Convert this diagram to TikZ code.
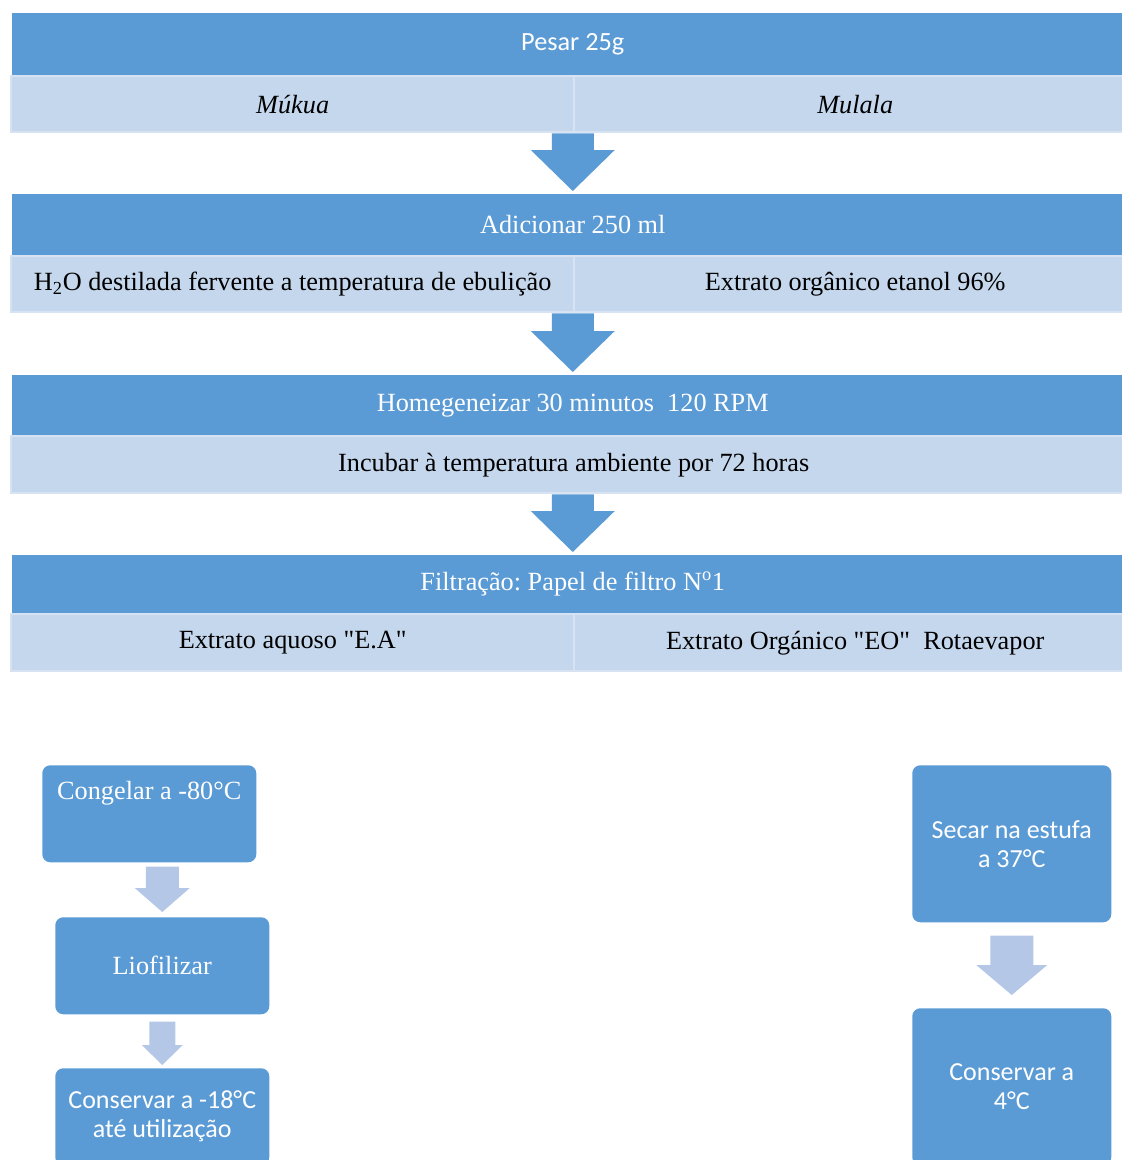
\documentclass[tikz,border=0pt]{standalone}
\usepackage{fontspec}
\setmainfont{Liberation Serif}
\newfontfamily\calibri{Carlito}
\usetikzlibrary{positioning, calc}
\frenchspacing

\definecolor{bandblue}{HTML}{5B9BD5}
\definecolor{rowblue}{HTML}{C5D7ED}
\definecolor{rowedge}{HTML}{D7E3F3}
\definecolor{paleblue}{HTML}{B4C7E7}

\newcommand{\pxl}{0.75pt}
% block arrow: [colour]{from}{to}{shaft half}{head half}{head length}{gap from}{gap to}
\newcommand{\blockarrow}[8][bandblue]{%
  \fill[#1] ($(#3|-#2)+(-#4,#7)$) -- ($(#3|-#2)+(#4,#7)$) -- ($(#3)+(#4,-#6-#8)$)
    -- ($(#3)+(#5,-#6-#8)$) -- ($(#3)+(0,-#8)$) -- ($(#3)+(-#5,-#6-#8)$)
    -- ($(#3)+(-#4,-#6-#8)$) -- cycle;}

\tikzset{
  band/.style={rectangle, fill=bandblue, inner sep=0pt, anchor=north west,
    minimum width=1121*\pxl, text=white, font=\fontsize{19.7}{22}\selectfont},
  row/.style={rectangle, fill=rowblue, draw=rowedge, line width=1.8pt, inner sep=0pt,
    anchor=north west, text=black, font=\fontsize{19.7}{22}\selectfont},
  stepbox/.style={rectangle, rounded corners=6pt, fill=bandblue, inner sep=0pt,
    anchor=north west, text=white, align=center, font=\fontsize{19.7}{22}\selectfont},
  sanstext/.style={font=\calibri\fontsize{19.5}{21.75}\selectfont}
}

\begin{document}
\begin{tikzpicture}[x=0.75pt, y=-0.75pt]
    \useasboundingbox (0,0) rectangle (1121,1160);
    % Rows
    \node[row, minimum width=563*\pxl, minimum height=56*\pxl] (mukua) at (10,75) {\itshape Múkua};
    \node[row, minimum width=562*\pxl, minimum height=56*\pxl] (mulala) at (573,75) {\itshape Mulala};
    \node[row, minimum width=563*\pxl, minimum height=56*\pxl] (water) at (10,255) {H\textsubscript{2}O destilada fervente a temperatura de ebulição};
    \node[row, minimum width=562*\pxl, minimum height=56*\pxl] (ethanol) at (573,255) {Extrato orgânico etanol 96\%};
    \node[row, minimum width=1125*\pxl, minimum height=57*\pxl] (incubate) at (10,435) {Incubar à temperatura ambiente por 72 horas};
    \node[row, minimum width=563*\pxl, minimum height=57*\pxl] (aqueous) at (10,613) {Extrato aquoso \textquotedbl E.A\textquotedbl};
    \node[row, minimum width=562*\pxl, minimum height=57*\pxl] (organic) at (573,613) {Extrato Orgánico \textquotedbl EO\textquotedbl~ Rotaevapor};
    % Bands
    \node[band, minimum height=62*\pxl] (weigh) at (12,13) {\calibri Pesar 25g};
    \node[band, minimum height=61*\pxl] (add) at (12,194) {Adicionar 250 ml};
    \node[band, minimum height=60*\pxl] (shake) at (12,375) {Homegeneizar 30 minutos~ 120 RPM};
    \node[band, minimum height=58*\pxl] (filter) at (12,555) {Filtração: Papel de filtro N\textsuperscript{o}1};
    % Arrows between bands
    \blockarrow{mukua.south east}{add.north}{21}{42}{41}{0}{3}
    \blockarrow{water.south east}{shake.north}{21}{42}{41}{0}{3}
    \blockarrow{incubate.south}{filter.north}{21}{42}{41}{0}{3}
    % Aqueous branch
    \node[stepbox, minimum width=214*\pxl, minimum height=97*\pxl] (freeze) at (42,765) {};
    \node[text=white, font=\fontsize{19.7}{22}\selectfont] (freezetxt) at ($(freeze.north)+(0,28)$) {Congelar a -80°C};
    \node[stepbox, minimum width=214*\pxl, minimum height=97*\pxl] (lyo) at (55,917) {Liofilizar};
    \node[stepbox, sanstext, minimum width=214*\pxl, minimum height=97*\pxl] (keepfrozen) at (55,1068) {Conservar a -18°C\\até utilização};
    \blockarrow[paleblue]{freeze.south}{lyo.north}{16.5}{27.5}{24}{4}{5}
    \blockarrow[paleblue]{lyo.south}{keepfrozen.north}{13}{20.5}{20}{7}{3}
    % Organic branch
    \node[stepbox, sanstext, minimum width=199*\pxl, minimum height=157*\pxl] (dry) at (912,765) {Secar na estufa\\a 37°C};
    \node[stepbox, sanstext, minimum width=199*\pxl, minimum height=157*\pxl] (keepcold) at (912,1008) {Conservar a\\4°C};
    \blockarrow[paleblue]{dry.south}{keepcold.north}{21.5}{35.5}{30}{13}{13}
\end{tikzpicture}
\end{document}
